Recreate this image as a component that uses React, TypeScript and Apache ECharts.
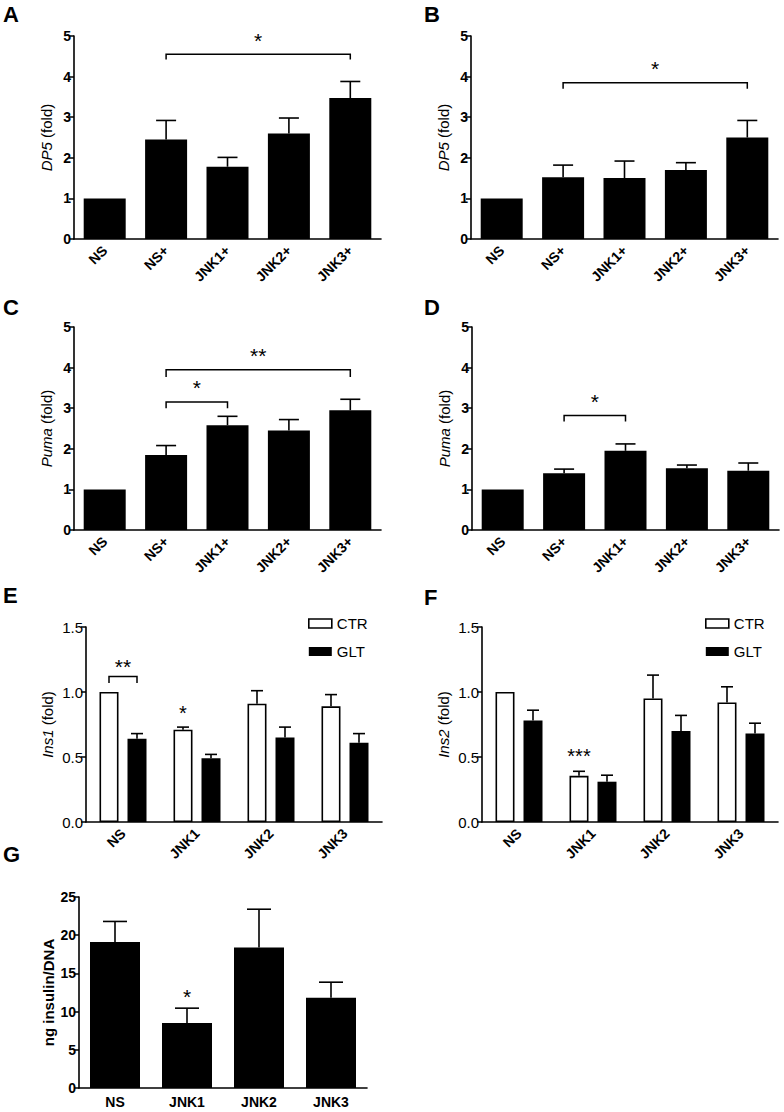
import React, { useEffect, useRef } from "react";
import * as echarts from "echarts";

const FONT = "'Liberation Sans', Arial, sans-serif";

// ---------- data ----------
const catsAD = ["NS", "NS+", "JNK1+", "JNK2+", "JNK3+"];
const catsEG = ["NS", "JNK1", "JNK2", "JNK3"];

const dp5A = [1.0, 2.45, 1.78, 2.6, 3.47];
const dp5AErr = [0, 0.47, 0.23, 0.38, 0.41];
const dp5B = [1.0, 1.52, 1.5, 1.7, 2.5];
const dp5BErr = [0, 0.3, 0.42, 0.18, 0.42];
const pumaC = [1.0, 1.85, 2.58, 2.45, 2.95];
const pumaCErr = [0, 0.23, 0.22, 0.27, 0.27];
const pumaD = [1.0, 1.4, 1.95, 1.52, 1.46];
const pumaDErr = [0, 0.1, 0.17, 0.08, 0.19];

const ins1CTR = [1.0, 0.71, 0.91, 0.89];
const ins1CTRErr = [0, 0.02, 0.1, 0.09];
const ins1GLT = [0.64, 0.49, 0.65, 0.61];
const ins1GLTErr = [0.04, 0.03, 0.08, 0.07];

const ins2CTR = [1.0, 0.355, 0.95, 0.92];
const ins2CTRErr = [0, 0.035, 0.18, 0.12];
const ins2GLT = [0.78, 0.31, 0.7, 0.68];
const ins2GLTErr = [0.08, 0.05, 0.12, 0.08];

const insG = [19.1, 8.5, 18.4, 11.8];
const insGErr = [2.7, 1.95, 5.0, 2.05];

// significance brackets: from/to category index, level, drop, label, label level
const bracketsA = [{ from: 1, to: 4, y: 4.55, drop: 0.13, text: "*", ty: 4.9 }];
const bracketsB = [{ from: 1, to: 4, y: 3.85, drop: 0.15, text: "*", ty: 4.2 }];
const bracketsC = [
  { from: 1, to: 4, y: 3.95, drop: 0.18, text: "**", ty: 4.3 },
  { from: 1, to: 2, y: 3.15, drop: 0.15, text: "*", ty: 3.5 },
];
const bracketsD = [{ from: 1, to: 2, y: 2.82, drop: 0.15, text: "*", ty: 3.17 }];
const bracketsE = [{ from: 0, to: 0, y: 1.12, drop: 0.05, text: "**", ty: 1.2, grouped: true }];
const starsE = [{ cat: 1, y: 0.84, text: "*" }];
const starsF = [{ cat: 1, y: 0.51, text: "***" }];
const starsG = [{ cat: 1, y: 12.0, text: "*" }];

const yTicksAD = { min: 0, max: 5, interval: 1 };
const yTicksEF = { min: 0, max: 1.5, interval: 0.5 };
const yTicksG = { min: 0, max: 25, interval: 5 };

// ---------- layout ----------
const grids = [
  { left: 74, top: 36, width: 307, height: 203 },
  { left: 471, top: 36, width: 307, height: 203 },
  { left: 74, top: 327, width: 307, height: 203 },
  { left: 472, top: 327, width: 307, height: 203 },
  { left: 86, top: 627, width: 296, height: 195 },
  { left: 482, top: 627, width: 296, height: 195 },
  { left: 79, top: 897, width: 288, height: 191 },
];
const EF_BAR = 19;
const EF_GAP = 9;
const EF_OFF = (EF_BAR + EF_GAP) / 2;

function xAxis(gi: number, cats: string[], rotate: number, bold = true) {
  return {
    type: "category",
    gridIndex: gi,
    data: cats,
    axisLine: { lineStyle: { color: "#000", width: 1.6 } },
    axisTick: { alignWithLabel: true, length: 6, lineStyle: { color: "#000", width: 1.5 } },
    axisLabel: {
      interval: 0,
      rotate,
      color: "#000",
      fontFamily: FONT,
      fontWeight: bold ? "bold" : "normal",
      fontSize: 14,
      margin: rotate ? 9 : 7,
    },
  };
}

function yAxis(gi: number, ticks: any, name: string, gap: number, bold: boolean, fmt?: (v: number) => string, labelSize = 14, nameBold = false) {
  return {
    type: "value",
    gridIndex: gi,
    ...ticks,
    name,
    nameLocation: "middle",
    nameGap: gap,
    nameTextStyle: {
      color: "#000",
      fontFamily: FONT,
      fontSize: 15,
      fontWeight: nameBold ? 600 : "normal",
      rich: { i: { fontStyle: "italic", fontFamily: FONT, fontSize: 15, color: "#000" } },
    },
    splitLine: { show: false },
    axisLine: { show: true, lineStyle: { color: "#000", width: 1.6 } },
    axisTick: { show: true, length: 5, lineStyle: { color: "#000", width: 1.5 } },
    axisLabel: {
      color: "#000",
      fontFamily: FONT,
      fontWeight: bold ? "bold" : "normal",
      fontSize: labelSize,
      margin: 3,
      formatter: fmt,
    },
  };
}

function errSeries(gi: number, vals: number[], errs: number[], off: number, capW: number) {
  return {
    type: "custom",
    xAxisIndex: gi,
    yAxisIndex: gi,
    z: 5,
    data: vals.map((v, i) => [i, v, errs[i]]),
    renderItem: (params: any, api: any) => {
      const i = api.value(0);
      const v = api.value(1);
      const e = api.value(2);
      if (!e) return null;
      const p0 = api.coord([i, v]);
      const p1 = api.coord([i, v + e]);
      const x = p0[0] + off;
      return {
        type: "group",
        children: [
          { type: "line", shape: { x1: x, y1: p0[1], x2: x, y2: p1[1] }, style: { stroke: "#000", lineWidth: 1.6 } },
          { type: "line", shape: { x1: x - capW / 2, y1: p1[1], x2: x + capW / 2, y2: p1[1] }, style: { stroke: "#000", lineWidth: 1.6 } },
        ],
      };
    },
  };
}

function bracketSeries(gi: number, list: any[]) {
  return {
    type: "custom",
    xAxisIndex: gi,
    yAxisIndex: gi,
    z: 6,
    data: list.map((b) => [b.from, b.y]),
    renderItem: (params: any, api: any) => {
      const b = list[params.dataIndex];
      const a = api.coord([b.from, b.y]);
      const c = api.coord([b.to, b.y]);
      const d = api.coord([b.from, b.y - b.drop]);
      const t = api.coord([b.from, b.ty]);
      let x1 = a[0];
      let x2 = c[0];
      if (b.grouped) {
        x1 = a[0] - EF_OFF;
        x2 = c[0] + EF_OFF;
      }
      return {
        type: "group",
        children: [
          {
            type: "polyline",
            shape: { points: [[x1, d[1]], [x1, a[1]], [x2, a[1]], [x2, d[1]]] },
            style: { stroke: "#000", lineWidth: 1.5, fill: "none" },
          },
          {
            type: "text",
            style: { text: b.text, x: (x1 + x2) / 2, y: t[1], align: "center", verticalAlign: "middle", font: `21px ${FONT}`, fill: "#000" },
          },
        ],
      };
    },
  };
}

function starSeries(gi: number, list: any[], off: number, size: number) {
  return {
    type: "custom",
    xAxisIndex: gi,
    yAxisIndex: gi,
    z: 6,
    data: list.map((s) => [s.cat, s.y]),
    renderItem: (params: any, api: any) => {
      const s = list[params.dataIndex];
      const p = api.coord([s.cat, s.y]);
      return {
        type: "text",
        style: { text: s.text, x: p[0] + off, y: p[1], align: "center", verticalAlign: "middle", font: `${size}px ${FONT}`, fill: "#000" },
      };
    },
  };
}

function barSeries(gi: number, name: string, vals: number[], width: number, white = false, gap?: string) {
  return {
    type: "bar",
    name,
    xAxisIndex: gi,
    yAxisIndex: gi,
    data: vals,
    barWidth: width,
    barGap: gap,
    itemStyle: white ? { color: "#fff", borderColor: "#000", borderWidth: 1.6 } : { color: "#000" },
  };
}

const fmt1 = (v: number) => v.toFixed(1);

function letter(text: string, x: number, y: number) {
  return { type: "text", left: x, top: y, style: { text, font: `bold 22px ${FONT}`, fill: "#000" } };
}

function legend(left: number) {
  return {
    left,
    top: 611,
    orient: "vertical",
    itemWidth: 23,
    itemHeight: 9,
    itemGap: 13,
    icon: "rect",
    textStyle: { color: "#000", fontFamily: FONT, fontSize: 15 },
    selectedMode: false,
    data: [
      { name: "CTR", itemStyle: { color: "#fff", borderColor: "#000", borderWidth: 1.6 } },
      { name: "GLT", itemStyle: { color: "#000" } },
    ],
  };
}

export default function App() {
  const ref = useRef<HTMLDivElement>(null);
  useEffect(() => {
    if (!ref.current) return;
    const chart = echarts.init(ref.current, undefined, { renderer: "svg" });
    const option: any = {
      animation: false,
      backgroundColor: "#fff",
      grid: grids,
      legend: [legend(303), legend(700)],
      xAxis: [
        xAxis(0, catsAD, 45),
        xAxis(1, catsAD, 45),
        xAxis(2, catsAD, 45),
        xAxis(3, catsAD, 45),
        xAxis(4, catsEG, 45),
        xAxis(5, catsEG, 45),
        xAxis(6, catsEG, 0),
      ],
      yAxis: [
        yAxis(0, yTicksAD, "{i|DP5} (fold)", 20, true),
        yAxis(1, yTicksAD, "{i|DP5} (fold)", 20, true),
        yAxis(2, yTicksAD, "{i|Puma} (fold)", 20, true),
        yAxis(3, yTicksAD, "{i|Puma} (fold)", 20, true),
        yAxis(4, yTicksEF, "{i|Ins1} (fold)", 31, false, fmt1, 15),
        yAxis(5, yTicksEF, "{i|Ins2} (fold)", 31, false, fmt1, 15),
        yAxis(6, yTicksG, "ng insulin/DNA", 23, true, undefined, 14, true),
      ],
      series: [
        barSeries(0, "A", dp5A, 42),
        errSeries(0, dp5A, dp5AErr, 0, 20),
        bracketSeries(0, bracketsA),
        barSeries(1, "B", dp5B, 42),
        errSeries(1, dp5B, dp5BErr, 0, 20),
        bracketSeries(1, bracketsB),
        barSeries(2, "C", pumaC, 42),
        errSeries(2, pumaC, pumaCErr, 0, 20),
        bracketSeries(2, bracketsC),
        barSeries(3, "D", pumaD, 42),
        errSeries(3, pumaD, pumaDErr, 0, 20),
        bracketSeries(3, bracketsD),
        barSeries(4, "CTR", ins1CTR, EF_BAR, true, `${(EF_GAP / EF_BAR) * 100}%`),
        barSeries(4, "GLT", ins1GLT, EF_BAR, false, `${(EF_GAP / EF_BAR) * 100}%`),
        errSeries(4, ins1CTR, ins1CTRErr, -EF_OFF, 12),
        errSeries(4, ins1GLT, ins1GLTErr, EF_OFF, 12),
        bracketSeries(4, bracketsE),
        starSeries(4, starsE, -EF_OFF, 20),
        barSeries(5, "CTR", ins2CTR, EF_BAR, true, `${(EF_GAP / EF_BAR) * 100}%`),
        barSeries(5, "GLT", ins2GLT, EF_BAR, false, `${(EF_GAP / EF_BAR) * 100}%`),
        errSeries(5, ins2CTR, ins2CTRErr, -EF_OFF, 12),
        errSeries(5, ins2GLT, ins2GLTErr, EF_OFF, 12),
        starSeries(5, starsF, -EF_OFF, 20),
        barSeries(6, "G", insG, 50),
        errSeries(6, insG, insGErr, 0, 24),
        starSeries(6, starsG, 0, 21),
      ],
      graphic: [
        letter("A", 3, 3),
        letter("B", 424, 3),
        letter("C", 3, 296),
        letter("D", 424, 296),
        letter("E", 3, 584),
        letter("F", 424, 586),
        letter("G", 3, 843),
      ],
    };
    chart.setOption(option);
    return () => chart.dispose();
  }, []);
  return <div ref={ref} style={{ position: "absolute", left: 0, top: 0, width: 784, height: 1112 }} />;
}
